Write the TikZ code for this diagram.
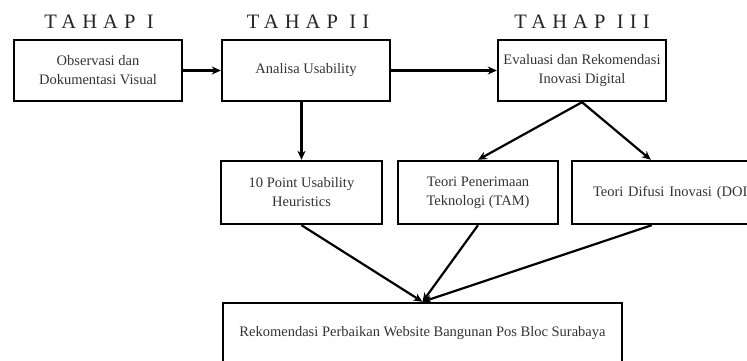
\documentclass[tikz,border=0pt]{standalone}
\usepackage{fontspec}
\setmainfont{Liberation Serif}
\usetikzlibrary{arrows.meta,calc}
\begin{document}
\begin{tikzpicture}[x=1pt,y=1pt,
  box/.style={draw=black,line width=2.4pt,fill=white,inner sep=0pt,align=center,
    font=\fontsize{14.5}{19}\selectfont,text=black!80},
  conn/.style={draw=black,line width=2.2pt,-{Stealth[length=9pt,width=8pt]}},
  stage/.style={font=\addfontfeature{LetterSpace=30}\fontsize{20.5}{20}\selectfont,text=black!85}]
\useasboundingbox (0,0) rectangle (747,-361);
\clip (0,0) rectangle (747,-361);
\fill[white] (0,0) rectangle (747,-361);
% stage titles
\node[stage] (t1) at (99,-22) {TAHAP I};
\node[stage] (t2) at (308,-22) {TAHAP II};
\node[stage] (t3) at (582,-22) {TAHAP III};
% top row
\node[box,minimum width=168pt,minimum height=61pt] (b1) at (98,-70.5) {Observasi dan\\Dokumentasi Visual};
\node[box,minimum width=168pt,minimum height=61pt] (b2) at (306,-70.5) {Analisa Usability};
\node[box,minimum width=168pt,minimum height=61pt] (b3) at (582,-70.5) {Evaluasi dan Rekomendasi\\Inovasi Digital};
% middle row
\node[box,minimum width=161pt,minimum height=63pt] (b4) at (301.5,-192.5) {10 Point Usability\\Heuristics};
\node[box,minimum width=160pt,minimum height=63pt] (b5) at (478,-192.5) {Teori Penerimaan\\Teknologi (TAM)};
\node[box,minimum width=200pt,minimum height=63pt,text width=200pt,align=left] (b6) at (672,-192.5) {\hspace*{21pt}Teori Difusi Inovasi (DOI)};
% bottom box
\node[box,minimum width=399pt,minimum height=60pt] (b7) at (422.5,-333) {Rekomendasi Perbaikan Website Bangunan Pos Bloc Surabaya};
% anchor points on the clipped box
\coordinate (b6in) at ($(b6.north west)+(80,0)$);
\coordinate (b6out) at ($(b6.south west)+(81,0)$);
% connectors
\draw[conn] (b1.east) -- (b2.west);
\draw[conn] (b2.east) -- (b3.west);
\draw[conn] (b2.south -| b4.north) -- (b4.north);
\draw[conn] (b3.south) -- (b5.north);
\draw[conn] (b3.south) -- (b6in);
\draw[conn] (b4.south) -- (b7.north);
\draw[conn] (b5.south) -- (b7.north);
\draw[conn] (b6out) -- (b7.north);
\end{tikzpicture}
\end{document}
